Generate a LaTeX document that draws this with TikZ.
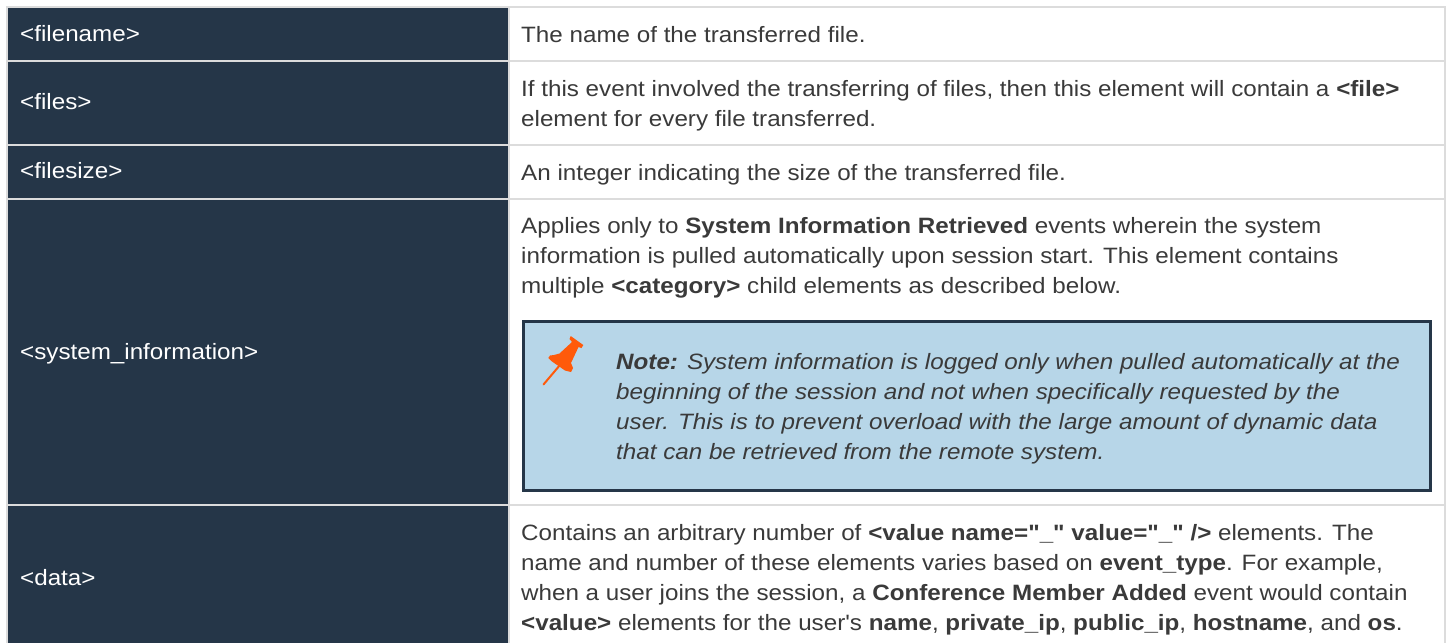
\documentclass[tikz,border=0pt]{standalone}
\usepackage{fontspec}
\setmainfont{Liberation Sans}[Ligatures=TeXOff,FakeStretch=1.09]
\definecolor{navy}{HTML}{253648}
\definecolor{rulegrey}{HTML}{DCDCDC}
\definecolor{notebg}{HTML}{B7D6E8}
\definecolor{bodyink}{HTML}{3A3A3A}
\definecolor{pinorange}{HTML}{FF5A0A}
\newcommand{\px}{\fontsize{22.2}{30}\selectfont}
\newcommand{\topstrut}{\rule{0pt}{18pt}}
\tikzset{
  x=1pt,y=-1pt,
  keycell/.style={fill=navy,draw=none},
  rowline/.style={draw=rulegrey,line width=2pt},
  keytext/.style={anchor=base west,inner sep=0pt,text=white,font=\px},
  valtext/.style={anchor=north west,inner sep=0pt,text=bodyink,font=\px,align=left},
  notebox/.style={fill=notebg,draw=navy,line width=3pt},
}
\begin{document}
\begin{tikzpicture}
\useasboundingbox (0,0) rectangle (1447,643);
\fill[white] (0,0) rectangle (1447,643);
% rules
\draw[rowline] (6,7) -- (1446,7);
\foreach \yy in {61,145,198.7,505} \draw[rowline] (7,\yy) -- (1446,\yy);
\draw[rowline] (509,7) -- (509,643);
\draw[rowline] (1445,7) -- (1445,643);
\draw[rowline] (7,7) -- (7,643);
% key cells
\fill[keycell] (8,8) rectangle (508,60.2);
\fill[keycell] (8,61.7) rectangle (508,144.2);
\fill[keycell] (8,145.7) rectangle (508,198);
\fill[keycell] (8,199.6) rectangle (508,504.2);
\fill[keycell] (8,505.8) rectangle (508,643);
% key text
\node[keytext] (k1) at (20,41.5) {<filename>};
\node[keytext] (k2) at (20,109) {<files>};
\node[keytext] (k3) at (20,178.5) {<filesize>};
\node[keytext] (k4) at (20,359) {<system\_information>};
\node[keytext] (k5) at (20,585) {<data>};
% value text (top = first baseline - 18)
\node[valtext] (v1) at (521,24) {\topstrut The name of the transferred file.};
\node[valtext] (v2) at (521,78) {\topstrut If this event involved the transferring of files, then this element will contain a \textbf{<file>}\\element for every file transferred.};
\node[valtext] (v3) at (521,162) {\topstrut An integer indicating the size of the transferred file.};
\node[valtext] (v4) at (521,215) {\topstrut Applies only to \textbf{System Information Retrieved} events wherein the system\\information is pulled automatically upon session start. This element contains\\multiple \textbf{<category>} child elements as described below.};
\node[valtext] (v5) at (521,522) {\topstrut Contains an arbitrary number of \textbf{<value name="\_" value="\_" />} elements. The\\name and number of these elements varies based on \textbf{event\_type}. For example,\\when a user joins the session, a \textbf{Conference Member Added} event would contain\\\textbf{<value>} elements for the user's \textbf{name}, \textbf{private\_ip}, \textbf{public\_ip}, \textbf{hostname}, and \textbf{os}.};
% note
\draw[notebox] (523.5,321.5) rectangle (1430.5,490.5);
\node[valtext] (n1) at (616,351) {\topstrut\textbf{\textit{Note:}} \textit{System information is logged only when pulled automatically at the}\\\textit{beginning of the session and not when specifically requested by the}\\\textit{user. This is to prevent overload with the large amount of dynamic data}\\\textit{that can be retrieved from the remote system.}};
% pushpin
\fill[pinorange] (570.7,336) -- (583.3,345) -- (581.5,348) -- (578.5,347) -- (571,363) -- (573,368) -- (571,372) -- (565,370.5) -- (552,361.5) -- (548.3,358) -- (550,355.5) -- (554,355) -- (559.5,353.5) -- (572,342) -- (569.5,339) -- cycle;
\draw[pinorange,line width=2pt,line cap=round] (560,365) -- (543.5,384.5);
\end{tikzpicture}
\end{document}
